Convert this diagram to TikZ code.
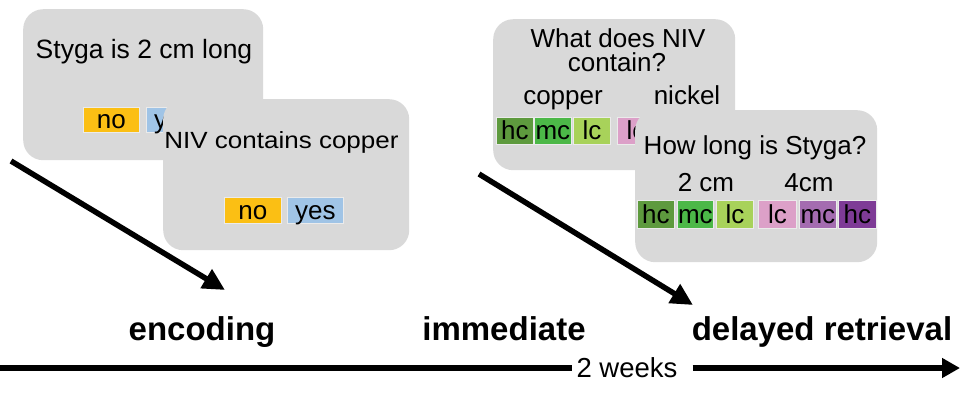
\documentclass[tikz,border=0pt]{standalone}
\usepackage{fontspec}
\usepackage{graphicx}
\setmainfont{Liberation Sans}
\usetikzlibrary{arrows.meta}
\definecolor{cardgray}{HTML}{D9D9D9}
\definecolor{noyel}{HTML}{FBBF14}
\definecolor{yesblue}{HTML}{A0C4E6}
\definecolor{hcg}{HTML}{5E9A3E}
\definecolor{mcg}{HTML}{4CB848}
\definecolor{lcg}{HTML}{A8D25A}
\definecolor{lcp}{HTML}{DCA0C8}
\definecolor{mcp}{HTML}{A46CB0}
\definecolor{hcp}{HTML}{7E3B96}
\begin{document}
\begin{tikzpicture}[x=1pt,y=-1pt,
  card/.style={fill=cardgray, rounded corners=20pt, inner sep=0pt, anchor=north west},
  txt/.style={font=\fontsize{26}{28}\selectfont, anchor=base, inner sep=0pt},
  opt/.style={font=\fontsize{26}{28}\selectfont, anchor=north west, inner sep=0pt,
    minimum height=26pt, minimum width=37pt, text height=20pt, text depth=2pt,
    draw=white!92!black, line width=0.8pt},
  lab/.style={font=\fontsize{33}{36}\selectfont\bfseries, anchor=base, inner sep=0pt},
  diag/.style={line width=5.5pt, -{Triangle[length=22pt,width=21pt]}},
  tline/.style={line width=6pt}]
\useasboundingbox (0,0) rectangle (973,392);

% card 1
\node[card, minimum width=240pt, minimum height=151pt] (c1) at (23,9) {};
\node[txt, font=\fontsize{26.5}{28}\selectfont] (c1t) at (144,58) {Styga is 2 cm long};
\node[opt, fill=noyel, minimum width=56pt, minimum height=25pt] (c1no) at (83,107) {no};
\node[opt, fill=yesblue, minimum width=56pt, minimum height=25pt] (c1yes) at (146,107) {yes};

% card 2
\node[card, minimum width=246pt, minimum height=151pt] (c2) at (163,99) {};
\node[txt] (c2t) at (281.5,148) {\scalebox{1}[0.9]{NIV contains copper}};
\node[opt, fill=noyel, minimum width=57pt] (c2no) at (224,197) {no};
\node[opt, fill=yesblue, minimum width=56pt] (c2yes) at (287,197) {yes};

% card 3
\node[card, minimum width=242pt, minimum height=151pt] (c3) at (493,19) {};
\node[txt] (c3a) at (618,47) {What does NIV};
\node[txt] (c3b) at (617,71) {contain?};
\node[txt] (c3c) at (563,104) {copper};
\node[txt] (c3n) at (687,104) {nickel};
\node[opt, fill=hcg, minimum height=27pt] (c3hc) at (496,117) {hc};
\node[opt, fill=mcg, minimum height=27pt] (c3mc) at (534,117) {mc};
\node[opt, fill=lcg, minimum height=27pt] (c3lc) at (573,117) {lc};
\node[opt, fill=lcp, minimum height=27pt] (c3lp) at (617,117) {lc};

% card 4
\node[card, minimum width=242pt, minimum height=152pt] (c4) at (635,110) {};
\node[txt] (c4t) at (755,154) {How long is Styga?};
\node[txt] (c4a) at (706,191) {2 cm};
\node[txt] (c4b) at (809,191) {4cm};
\node[opt, fill=hcg, minimum height=28pt] (c4hc) at (637,200) {hc};
\node[opt, fill=mcg, minimum height=28pt, minimum width=36pt] (c4mc) at (677,200) {mc};
\node[opt, fill=lcg, minimum height=28pt] (c4lc) at (716,200) {lc};
\node[opt, fill=lcp, minimum height=28pt, minimum width=38pt] (c4lp) at (758,200) {lc};
\node[opt, fill=mcp, minimum height=28pt] (c4mp) at (799,200) {mc};
\node[opt, fill=hcp, minimum height=28pt, minimum width=38pt] (c4hp) at (838,200) {hc};

% diagonal arrows
\coordinate (a1s) at (11,161);
\coordinate (a1e) at (225,290);
\coordinate (a2s) at (479,174);
\coordinate (a2e) at (693,305);
\draw[diag] (a1s) -- (a1e);
\draw[diag] (a2s) -- (a2e);

% labels
\node[lab] (enc) at (202,340) {encoding};
\node[lab] (imm) at (504,340) {immediate};
\node[lab] (del) at (822,340) {delayed retrieval};

% timeline
\node[txt, font=\fontsize{27.5}{30}\selectfont] (wk) at (627,377) {2 weeks};
\coordinate (tls) at (0,368);
\coordinate (tle) at (960,368);
\draw[tline] (tls) -- ([xshift=-4pt]wk.west |- tls);
\draw[tline, -{Triangle[length=18pt,width=19pt]}] ([xshift=15pt]wk.east |- tle) -- (tle);
\end{tikzpicture}
\end{document}
